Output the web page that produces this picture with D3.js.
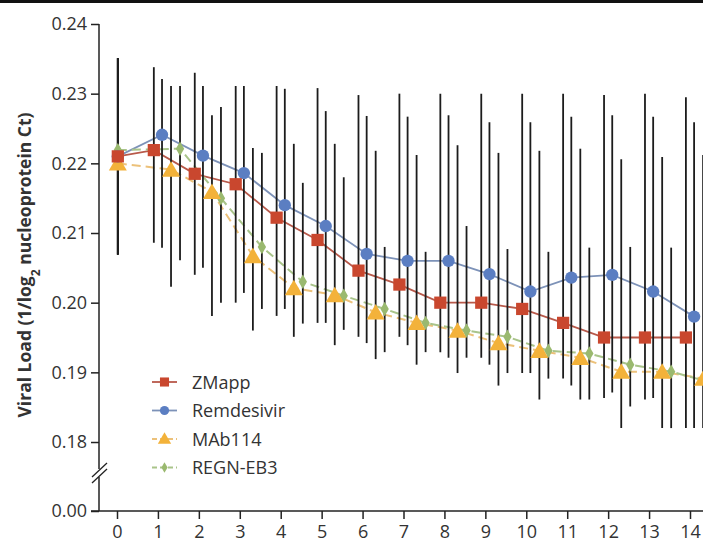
<!DOCTYPE html>
<html>
<head>
<meta charset="utf-8">
<script src="https://cdn.jsdelivr.net/npm/d3@7"></script>
<style>
  body { margin: 0; background: #fff; }
  svg { display: block; font-family: 'Open Sans', sans-serif; }
</style>
</head>
<body>
<div id="viz"></div>
<script>
const width = 703;
const height = 539;

// Data
const days = [0, 1, 2, 3, 4, 5, 6, 7, 8, 9, 10, 11, 12, 13, 14];
const seriesNames = ['ZMapp', 'Remdesivir', 'MAb114', 'REGN-EB3'];
const yTicks = [0, 0.18, 0.19, 0.20, 0.21, 0.22, 0.23, 0.24];

const zmapp      = [0.2210, 0.2219, 0.2185, 0.2170, 0.2122, 0.2090, 0.2046, 0.2026, 0.2000, 0.2000, 0.1991, 0.1971, 0.1950, 0.1950, 0.1950];
const remdesivir = [0.2210, 0.2241, 0.2211, 0.2186, 0.2140, 0.2110, 0.2070, 0.2060, 0.2060, 0.2041, 0.2016, 0.2036, 0.2040, 0.2016, 0.1980];
const mab114     = [0.2200, 0.2191, 0.2159, 0.2067, 0.2021, 0.2011, 0.1986, 0.1971, 0.1960, 0.1942, 0.1931, 0.1921, 0.1901, 0.1901, 0.1891];
const regneb3    = [0.2219, 0.2221, 0.2150, 0.2080, 0.2030, 0.2010, 0.1991, 0.1971, 0.1960, 0.1951, 0.1931, 0.1927, 0.1911, 0.1901, 0.1885];

// error bar ends (upper / lower)
const zmappHi = [0.2351, 0.2338, 0.2330, 0.2311, 0.2311, 0.2308, 0.2298, 0.2300, 0.2300, 0.2300, 0.2300, 0.2300, 0.2298, 0.2300, 0.2295];
const zmappLo = [0.2069, 0.2086, 0.2040, 0.2000, 0.1981, 0.1971, 0.1951, 0.1951, 0.1929, 0.1921, 0.1899, 0.1891, 0.1863, 0.1861, 0.1820];
const remHi   = [0.2351, 0.2321, 0.2311, 0.2311, 0.2307, 0.2275, 0.2268, 0.2267, 0.2269, 0.2259, 0.2259, 0.2267, 0.2269, 0.2267, 0.2259];
const remLo   = [0.2069, 0.2079, 0.2050, 0.2014, 0.1991, 0.1971, 0.1942, 0.1939, 0.1921, 0.1911, 0.1899, 0.1881, 0.1871, 0.1863, 0.1820];
const mabHi   = [0.2351, 0.2311, 0.2269, 0.2222, 0.2228, 0.2228, 0.2218, 0.2212, 0.2226, 0.2215, 0.2218, 0.2221, 0.2206, 0.2209, 0.2212];
const mabLo   = [0.2069, 0.2023, 0.1981, 0.1960, 0.1951, 0.1939, 0.1919, 0.1911, 0.1899, 0.1881, 0.1861, 0.1861, 0.1820, 0.1820, 0.1820];
const regnHi  = [0.2351, 0.2311, 0.2281, 0.2215, 0.2172, 0.2180, 0.2080, 0.2073, 0.2110, 0.2077, 0.2073, 0.2079, 0.2080, 0.2079, 0.2075];
const regnLo  = [0.2069, 0.2061, 0.2000, 0.1991, 0.1970, 0.1961, 0.1929, 0.1929, 0.1921, 0.1899, 0.1891, 0.1861, 0.1851, 0.1820, 0.1820];

// horizontal dodge of each series (in days), day 0 is not dodged
const dodge = [-0.1, 0.1, 0.32, 0.54];

const markerColors = ['#c9472e', '#5b7ec2', '#f3b23a', '#9ab96f'];
const lineColors = ['#b8594a', '#7d92b8', '#ecc17a', '#a9c48a'];
const dashed = [false, false, true, true];
const shapes = [d3.symbolSquare, d3.symbolCircle, d3.symbolTriangle, d3.symbolDiamond];
const shapeSizes = [150, 120, 140, 60];

const series = seriesNames.map((name, i) => {
  const vals = [zmapp, remdesivir, mab114, regneb3][i];
  const hi = [zmappHi, remHi, mabHi, regnHi][i];
  const lo = [zmappLo, remLo, mabLo, regnLo][i];
  return {
    name, i,
    points: days.map((d, k) => ({day: d, pos: d === 0 ? 0.02 : d + dodge[i], value: vals[k], hi: hi[k], lo: lo[k]}))
  };
});

const svg = d3.select('#viz')
  .append('svg')
    .attr('width', width)
    .attr('height', height);

svg.append('rect')
  .attr('width', width).attr('height', height).attr('fill', '#fff');

// thick rule at the top
svg.append('rect')
  .attr('x', 0).attr('y', 0).attr('width', width).attr('height', 3).attr('fill', '#111');

// Scales
const xScale = d3.scaleLinear()
  .domain([0, 14])
  .range([117, 690]);
// broken axis: 0 at the bottom, then 0.18 - 0.24
const yScale = d3.scaleLinear()
  .domain([0, 0.175, 0.24])
  .range([511, 476.85, 24]);

const axisColor = '#222';

// y axis
const yAxis = d3.axisLeft(yScale)
  .tickValues(yTicks)
  .tickFormat(d3.format('.2f'))
  .tickSize(8)
  .tickPadding(4);
const yAxisGroup = svg.append('g')
  .attr('class', 'y-axis-group')
  .attr('transform', 'translate(99, 0)')
  .style('font-size', '18px')
  .style('font-family', "'Open Sans', sans-serif")
  .call(yAxis);
yAxisGroup.select('.domain').remove();
yAxisGroup.selectAll('.tick line').attr('stroke', axisColor).attr('stroke-width', 1.5);
yAxisGroup.selectAll('.tick text').attr('fill', '#333');

// axis line with a gap at the break
svg.append('line')
  .attr('x1', 99).attr('x2', 99)
  .attr('y1', yScale(0.24)).attr('y2', 469)
  .attr('stroke', axisColor).attr('stroke-width', 1.5);
svg.append('line')
  .attr('x1', 99).attr('x2', 99)
  .attr('y1', 477).attr('y2', yScale(0))
  .attr('stroke', axisColor).attr('stroke-width', 1.5);
[0, 6].forEach(off => {
  svg.append('line')
    .attr('x1', 92).attr('y1', 477 + off)
    .attr('x2', 107).attr('y2', 463 + off)
    .attr('stroke', axisColor).attr('stroke-width', 1.3);
});

// x axis
const xAxis = d3.axisBottom(xScale)
  .tickValues(days)
  .tickSize(8)
  .tickPadding(5);
const xAxisGroup = svg.append('g')
  .attr('class', 'x-axis-group')
  .attr('transform', `translate(0, ${yScale(0)})`)
  .style('font-size', '18px')
  .style('font-family', "'Open Sans', sans-serif")
  .call(xAxis);
xAxisGroup.select('.domain').remove();
xAxisGroup.selectAll('.tick line').attr('stroke', axisColor).attr('stroke-width', 1.5);
xAxisGroup.selectAll('.tick text').attr('fill', '#333').attr('dy', '0.78em');
svg.append('line')
  .attr('x1', 91).attr('x2', width)
  .attr('y1', yScale(0)).attr('y2', yScale(0))
  .attr('stroke', axisColor).attr('stroke-width', 1.5);

// y axis title
const yTitle = svg.append('text')
  .attr('transform', `translate(31, 265) rotate(-90)`)
  .attr('text-anchor', 'middle')
  .attr('fill', '#333')
  .style('font-size', '17.5px')
  .style('font-weight', 700);
yTitle.append('tspan').text('Viral Load (1/log');
yTitle.append('tspan').attr('baseline-shift', 'sub').style('font-size', '12px').text('2');
yTitle.append('tspan').text(' nucleoprotein Ct)');

// series lines
const lineGen = d3.line()
  .x(d => xScale(d.pos))
  .y(d => yScale(d.value));

svg.append('g')
  .attr('class', 'lines-group')
  .selectAll('path')
  .data(series)
  .join('path')
    .attr('d', d => lineGen(d.points))
    .attr('fill', 'none')
    .attr('stroke', d => lineColors[d.i])
    .attr('stroke-width', d => dashed[d.i] ? 2 : 1.8)
    .attr('stroke-dasharray', d => dashed[d.i] ? '9,5' : null);

// error bars
svg.append('g')
  .attr('class', 'errorbars-group')
  .selectAll('line')
  .data(series.flatMap(s => s.points))
  .join('line')
    .attr('x1', d => xScale(d.pos))
    .attr('x2', d => xScale(d.pos))
    .attr('y1', d => yScale(d.hi))
    .attr('y2', d => yScale(d.lo))
    .attr('stroke', '#1c1c1c')
    .attr('stroke-width', 1.8);

// markers
const markerGroups = svg.append('g')
  .attr('class', 'markers-group')
  .selectAll('g')
  .data(series.slice().reverse())
  .join('g')
    .attr('fill', d => markerColors[d.i]);
markerGroups.selectAll('path')
  .data(d => d.points.map(p => ({...p, i: d.i})))
  .join('path')
    .attr('d', d => d3.symbol(shapes[d.i], shapeSizes[d.i])())
    .attr('transform', d => `translate(${xScale(d.pos)}, ${yScale(d.value) + (d.i === 2 ? 2 : 0)})`);

// legend
const legend = svg.append('g')
  .attr('class', 'legend-group')
  .attr('transform', 'translate(152, 382)');
const legendItems = legend.selectAll('g')
  .data(series)
  .join('g')
    .attr('transform', d => `translate(0, ${d.i * 28.5})`);
legendItems.append('line')
  .attr('x1', 0).attr('x2', 25)
  .attr('stroke', d => lineColors[d.i])
  .attr('stroke-width', 1.8)
  .attr('stroke-dasharray', d => dashed[d.i] ? '5,3' : null);
legendItems.append('path')
  .attr('d', d => d3.symbol(shapes[d.i], shapeSizes[d.i] * 0.55)())
  .attr('transform', d => `translate(12.5, ${d.i === 2 ? 1 : 0})`)
  .attr('fill', d => markerColors[d.i]);
legendItems.append('text')
  .attr('x', 40)
  .attr('y', 6.5)
  .attr('fill', '#333')
  .style('font-size', '18px')
  .text(d => d.name);
</script>
</body>
</html>
